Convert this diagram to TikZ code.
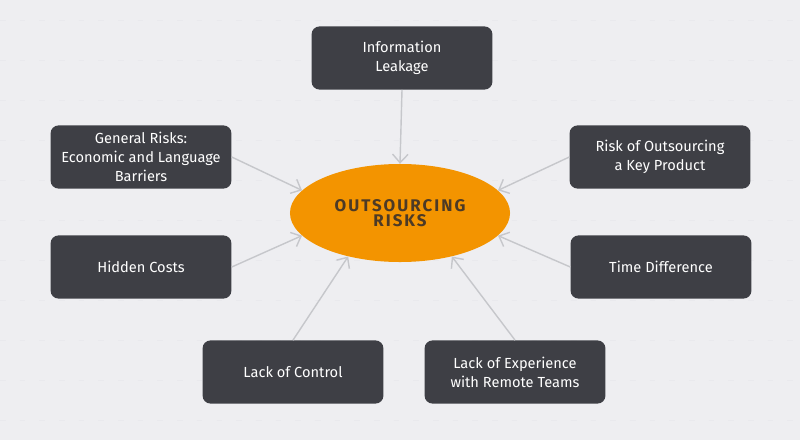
\documentclass[tikz,border=0pt]{standalone}
\usepackage{fontspec}
\setmainfont{Fira Sans}
\newfontfamily\corefont[LetterSpace=12]{Fira Sans}
\usepackage{xcolor}
\usetikzlibrary{arrows.meta,positioning,shapes.geometric}
\definecolor{bggrey}{RGB}{238,238,241}
\definecolor{gridgrey}{RGB}{233,233,237}
\definecolor{boxdark}{RGB}{62,63,69}
\definecolor{riskorange}{RGB}{243,148,0}
\definecolor{arrowgrey}{RGB}{198,199,203}
\definecolor{coretext}{RGB}{76,58,38}

\tikzset{
  riskbox/.style={fill=boxdark, rounded corners=0.2cm, minimum width=4.52cm, minimum height=1.58cm,
    text=white, align=center, inner sep=2pt, font=\fontsize{10.4}{13.5}\selectfont},
  riskarrow/.style={arrowgrey, line width=1pt, -{Straight Barb[length=6pt,width=11pt]}},
}

\begin{document}
\begin{tikzpicture}[x=0.025cm, y=-0.025cm]
% Canvas (pixel units, y downwards)
\fill[bggrey] (0,0) rectangle (800,440);
\useasboundingbox (0,0) rectangle (800,440);

% Faint background grid
\foreach \y in {20,60,...,420} {
    \draw[gridgrey, dash pattern=on 4pt off 10pt] (0,\y) -- (800,\y);
}

% Central node
\node[ellipse, fill=riskorange, minimum width=5.5cm, minimum height=2.45cm, inner sep=0pt,
      align=center, text=coretext, font=\corefont\bfseries\fontsize{12}{11}\selectfont]
      (core) at (400,213) {OUTSOURCING\\RISKS};

% Risk boxes
\node[riskbox] (leak) at (402,58)  {Information\\Leakage};
\node[riskbox] (gen)  at (141,157) {General Risks:\\Economic and Language\\Barriers};
\node[riskbox] (key)  at (660,157) {Risk of Outsourcing\\a Key Product};
\node[riskbox] (cost) at (141,267) {Hidden Costs};
\node[riskbox] (time) at (661,267) {Time Difference};
\node[riskbox] (ctrl) at (293,372) {Lack of Control};
\node[riskbox] (exp)  at (515,372) {Lack of Experience\\with Remote Teams};

% Arrows into the centre
\draw[riskarrow] (leak.south) -- (core.north);
\draw[riskarrow] (gen.east)   -- (core.167);
\draw[riskarrow] (cost.east)  -- (core.193);
\draw[riskarrow] (key.west)   -- (core.13);
\draw[riskarrow] (time.west)  -- (core.347);
\draw[riskarrow] (ctrl.north) -- (core.220);
\draw[riskarrow] (exp.north)  -- (core.320);

\end{tikzpicture}
\end{document}
